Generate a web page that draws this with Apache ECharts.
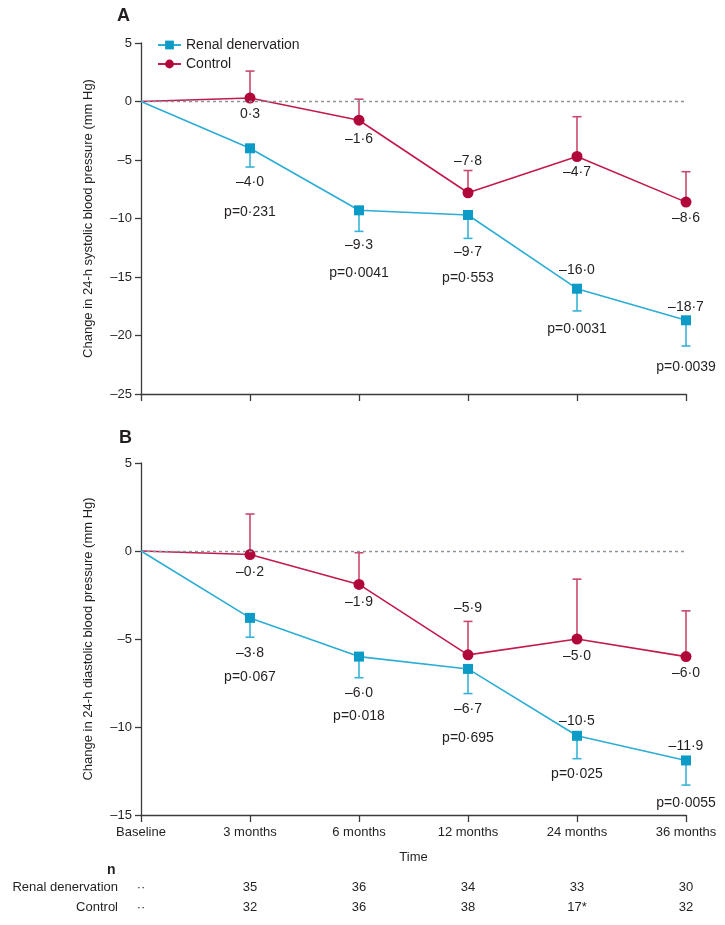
<!DOCTYPE html>
<html>
<head>
<meta charset="utf-8">
<script src="https://cdn.jsdelivr.net/npm/echarts@6/dist/echarts.min.js"></script>
<style>
  html, body { margin: 0; padding: 0; background: #fff; }
  #container { width: 725px; height: 925px; }
</style>
</head>
<body>
<div id="container"></div>
<script>
var categories = ['Baseline', '3 months', '6 months', '12 months', '24 months', '36 months'];

// A: 24-h systolic
var sysRdn = [0, -4.0, -9.3, -9.7, -16.0, -18.7];
var sysRdnLow = [null, -5.6, -11.1, -11.7, -17.9, -20.9];
var sysCtl = [0, 0.3, -1.6, -7.8, -4.7, -8.6];
var sysCtlHigh = [null, 2.6, 0.2, -5.9, -1.3, -6.0];
var sysP = ['', 'p=0·231', 'p=0·0041', 'p=0·553', 'p=0·0031', 'p=0·0039'];

// B: 24-h diastolic
var diaRdn = [0, -3.8, -6.0, -6.7, -10.5, -11.9];
var diaRdnLow = [null, -4.9, -7.2, -8.1, -11.8, -13.3];
var diaCtl = [0, -0.2, -1.9, -5.9, -5.0, -6.0];
var diaCtlHigh = [null, 2.1, -0.1, -4.0, -1.6, -3.4];
var diaP = ['', 'p=0·067', 'p=0·018', 'p=0·695', 'p=0·025', 'p=0·0055'];

// n per visit
var nRdn = ['··', '35', '36', '34', '33', '30'];
var nCtl = ['··', '32', '36', '38', '17*', '32'];

// label offsets in pixels (styling only)
var sysCtlOff = [0, 16, 19, -32, 16, 16];
var sysRdnOff = [0, 34, 35, 37, -19, -13];
var sysPOff = [0, 64, 63, 63, 40, 47];
var diaCtlOff = [0, 18, 18, -47, 17, 17];
var diaRdnOff = [0, 35, 37, 40, -15, -14];
var diaPOff = [0, 59, 60, 69, 38, 43];

var FONT = 'Liberation Sans, Arial, sans-serif';
var TXT = '#231f20';
var ctlColor = '#b1063a', ctlLine = '#c21a4c', ctlErr = '#c8496e';
var rdnColor = '#0c9bc6', rdnLine = '#2badd5', rdnErr = '#38b3d7';
var AXIS = '#3b3b3b';

function fmt(v) {
    var s = Math.abs(v).toFixed(1).replace('.', '·');
    return v < 0 ? '–' + s : s;
}
function tickFmt(v) {
    return v < 0 ? '–' + Math.abs(v) : String(v);
}

function lineData(vals, offs) {
    return vals.map(function (v, i) {
        if (i === 0) return { value: v, symbol: 'none', label: { show: false } };
        return {
            value: v,
            label: { show: true, position: 'inside', offset: [0, offs[i]], formatter: fmt(v) }
        };
    });
}

function errData(vals, ends) {
    var d = [];
    for (var i = 0; i < vals.length; i++) {
        if (ends[i] != null) d.push([i, vals[i], ends[i]]);
    }
    return d;
}

function errRender(color) {
    return function (params, api) {
        var p = api.coord([api.value(0), api.value(1)]);
        var e = api.coord([api.value(0), api.value(2)]);
        var st = { stroke: color, lineWidth: 1.6 };
        return {
            type: 'group',
            children: [
                { type: 'line', shape: { x1: p[0], y1: p[1], x2: e[0], y2: e[1] }, style: st },
                { type: 'line', shape: { x1: e[0] - 4.5, y1: e[1], x2: e[0] + 4.5, y2: e[1] }, style: st }
            ]
        };
    };
}

function pData(vals, texts, offs) {
    return vals.map(function (v, i) {
        return {
            value: v,
            label: { show: i > 0, position: 'inside', offset: [0, offs[i]], formatter: texts[i] }
        };
    });
}

var labelStyle = { color: TXT, fontSize: 14, fontFamily: FONT };

function panelSeries(idx, rdn, rdnLow, ctl, ctlHigh, pv, rdnOff, ctlOff, pOff) {
    return [
        {
            name: 'ctlErr' + idx, type: 'custom', xAxisIndex: idx, yAxisIndex: idx,
            renderItem: errRender(ctlErr), data: errData(ctl, ctlHigh), z: 2, silent: true
        },
        {
            name: 'rdnErr' + idx, type: 'custom', xAxisIndex: idx, yAxisIndex: idx,
            renderItem: errRender(rdnErr), data: errData(rdn, rdnLow), z: 2, silent: true
        },
        {
            name: 'Control', type: 'line', xAxisIndex: idx, yAxisIndex: idx,
            data: lineData(ctl, ctlOff), symbol: 'circle', symbolSize: 11,
            itemStyle: { color: ctlColor }, lineStyle: { color: ctlLine, width: 1.6 },
            label: labelStyle, z: 4, animation: false,
            markLine: {
                silent: true, symbol: 'none', label: { show: false },
                lineStyle: { type: [3, 3], color: '#8a949a', width: 1.3 },
                data: [{ yAxis: 0 }]
            }
        },
        {
            name: 'Renal denervation', type: 'line', xAxisIndex: idx, yAxisIndex: idx,
            data: lineData(rdn, rdnOff), symbol: 'rect', symbolSize: 10,
            itemStyle: { color: rdnColor }, lineStyle: { color: rdnLine, width: 1.6 },
            label: labelStyle, z: 5, animation: false
        },
        {
            name: 'p' + idx, type: 'scatter', xAxisIndex: idx, yAxisIndex: idx,
            data: pData(rdn, pv, pOff), symbolSize: 1,
            itemStyle: { color: 'rgba(0,0,0,0)', opacity: 1 },
            label: { color: TXT, fontSize: 14, fontFamily: FONT, opacity: 1 },
            silent: true, z: 6
        }
    ];
}

function yAxisCfg(idx, min, name) {
    return {
        type: 'value', gridIndex: idx, min: min, max: 5, interval: 5,
        name: name, nameLocation: 'middle', nameGap: 46,
        nameTextStyle: { color: TXT, fontSize: 13, fontFamily: FONT },
        axisLine: { show: true, lineStyle: { color: AXIS, width: 1.3 } },
        axisTick: { show: true, length: 6, lineStyle: { color: AXIS, width: 1.3 } },
        axisLabel: { color: TXT, fontSize: 13, fontFamily: FONT, margin: 9, formatter: tickFmt },
        splitLine: { show: false }
    };
}

function xAxisCfg(idx, showLabel) {
    return {
        type: 'category', gridIndex: idx, data: categories, boundaryGap: false,
        name: showLabel ? 'Time' : '', nameLocation: 'middle', nameGap: 36,
        nameTextStyle: { color: TXT, fontSize: 13, fontFamily: FONT },
        axisLine: { show: true, onZero: false, lineStyle: { color: AXIS, width: 1.3 } },
        axisTick: { show: true, length: 7, alignWithLabel: true, lineStyle: { color: AXIS, width: 1.3 } },
        axisLabel: { show: showLabel, color: TXT, fontSize: 13, fontFamily: FONT, margin: 11, interval: 0 },
        splitLine: { show: false }
    };
}

function nAxisCfg(values, offset) {
    return {
        type: 'category', gridIndex: 1, data: categories, boundaryGap: false,
        position: 'bottom', offset: offset,
        axisLine: { show: false }, axisTick: { show: false },
        axisLabel: {
            show: true, color: TXT, fontSize: 13, fontFamily: FONT, margin: 0, interval: 0,
            formatter: function (v, i) { return values[i]; }
        }
    };
}

var dom = document.getElementById('container');
var myChart = echarts.init(dom, null, { renderer: 'canvas' });
var option = {
    backgroundColor: '#fff',
    animation: false,
    textStyle: { fontFamily: FONT },
    grid: [
        { left: 141, right: 39, top: 43, height: 351 },
        { left: 141, right: 39, top: 463, height: 352 }
    ],
    legend: {
        data: ['Renal denervation', 'Control'],
        orient: 'vertical', left: 152, top: 33, itemGap: 5,
        itemWidth: 23, itemHeight: 11,
        textStyle: { color: TXT, fontSize: 14, fontFamily: FONT }
    },
    xAxis: [
        xAxisCfg(0, false),
        xAxisCfg(1, true),
        nAxisCfg(nRdn, 66),
        nAxisCfg(nCtl, 86)
    ],
    yAxis: [
        yAxisCfg(0, -25, 'Change in 24-h systolic blood pressure (mm Hg)'),
        yAxisCfg(1, -15, 'Change in 24-h diastolic blood pressure (mm Hg)')
    ],
    graphic: [
        { type: 'text', left: 117, top: 7, style: { text: 'A', fill: TXT, font: 'bold 18px ' + FONT } },
        { type: 'text', left: 119, top: 429, style: { text: 'B', fill: TXT, font: 'bold 18px ' + FONT } },
        { type: 'text', left: 107, top: 863, style: { text: 'n', fill: TXT, font: 'bold 14px ' + FONT } },
        { type: 'text', right: 607, top: 881, style: { text: 'Renal denervation', fill: TXT, font: '13px ' + FONT } },
        { type: 'text', right: 607, top: 901, style: { text: 'Control', fill: TXT, font: '13px ' + FONT } }
    ],
    series: [].concat(
        panelSeries(0, sysRdn, sysRdnLow, sysCtl, sysCtlHigh, sysP, sysRdnOff, sysCtlOff, sysPOff),
        panelSeries(1, diaRdn, diaRdnLow, diaCtl, diaCtlHigh, diaP, diaRdnOff, diaCtlOff, diaPOff)
    )
};
if (option && typeof option === 'object') {
    myChart.setOption(option, true);
}
</script>
</body>
</html>
